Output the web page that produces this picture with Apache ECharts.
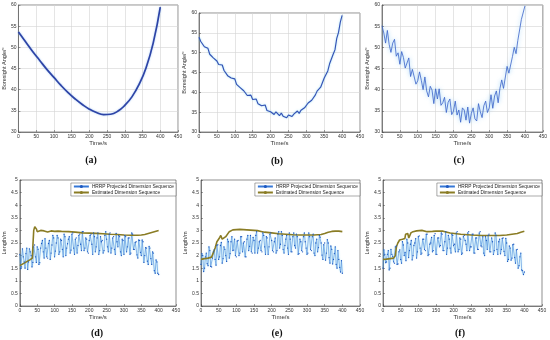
<!DOCTYPE html>
<html><head><meta charset="utf-8">
<script src="https://cdn.jsdelivr.net/npm/echarts@6/dist/echarts.min.js"></script>
<style>html,body{margin:0;padding:0;background:#fff}#c{width:550px;height:340px}</style>
</head><body><div id="c"></div>
<script>
// ---------- data ----------
const timeA = [0,20,40,60,80,100,120,140,160,180,200,220,240,260,280,300,320,340,360,380,400];
const angleA = [53.6,51.3,49.0,46.9,44.8,42.9,41.0,39.3,37.8,36.5,35.4,34.6,34.1,34.2,34.9,36.3,38.3,41.2,45.2,51.0,59.5];

const time5 = [0,5,10,15,20,25,30,35,40,45,50,55,60,65,70,75,80,85,90,95,100,105,110,115,120,125,130,135,140,145,150,155,160,165,170,175,180,185,190,195,200,205,210,215,220,225,230,235,240,245,250,255,260,265,270,275,280,285,290,295,300,305,310,315,320,325,330,335,340,345,350,355,360,365,370,375,380,385,390,395,400];
const timeMid = [2.5,7.5,12.5,17.5,22.5,27.5,32.5,37.5,42.5,47.5,52.5,57.5,62.5,67.5,72.5,77.5,82.5,87.5,92.5,97.5,102.5,107.5,112.5,117.5,122.5,127.5,132.5,137.5,142.5,147.5,152.5,157.5,162.5,167.5,172.5,177.5,182.5,187.5,192.5,197.5,202.5,207.5,212.5,217.5,222.5,227.5,232.5,237.5,242.5,247.5,252.5,257.5,262.5,267.5,272.5,277.5,282.5,287.5,292.5,297.5,302.5,307.5,312.5,317.5,322.5,327.5,332.5,337.5,342.5,347.5,352.5,357.5,362.5,367.5,372.5,377.5,382.5,387.5,392.5,397.5];

const angleB = [53.9,52.8,52.9,51.5,51.4,51.1,49.6,49.8,48.7,49.1,47.9,47.0,47.2,46.9,45.5,45.4,44.2,44.7,43.6,43.6,43.4,42.0,42.0,41.2,41.6,40.4,40.4,39.2,39.5,39.3,38.2,38.1,38.3,37.1,37.4,36.6,36.6,36.8,35.4,35.9,35.1,35.6,34.4,35.1,34.7,34.1,34.8,34.0,34.4,33.6,34.3,34.6,33.9,34.5,34.1,35.3,34.7,35.5,35.1,36.1,36.2,37.3,37.0,38.0,37.9,39.3,40.3,40.3,41.3,41.7,43.6,43.9,45.4,47.2,47.7,49.6,50.7,53.6,55.1,57.7,59.4];

const angleC = [55.1,53.4,51.0,54.0,50.7,48.8,51.0,51.9,47.9,48.7,46.0,49.0,47.6,45.1,45.5,47.5,43.1,44.8,45.1,41.3,42.1,44.2,42.2,40.0,43.0,39.7,38.3,40.8,39.9,36.7,40.2,37.8,40.2,36.3,36.9,38.2,34.6,37.0,37.8,34.1,34.9,37.3,34.0,35.2,32.3,35.7,35.2,32.8,35.9,32.1,34.4,35.7,33.1,32.6,36.7,34.8,33.4,36.2,37.3,34.6,35.7,38.8,35.6,38.5,39.7,36.9,40.3,42.3,40.3,40.6,45.5,43.9,43.8,47.8,50.0,48.5,51.6,51.6,56.6,56.6,59.8];

const hrrpD = [2.05,1.55,1.95,1.5,2.3,1.75,2.15,1.55,2.35,1.95,2.35,1.65,2.3,2.6,1.9,2.3,1.9,2.6,2.1,2.8,1.95,2.5,2.7,2.15,2.6,1.95,2.75,2.3,2.65,2.1,2.85,2.3,2.65,2.1,2.8,2.45,2.95,2.2,2.7,2.15,2.6,2.85,2.05,2.75,2.35,2.9,2.2,2.55,2.1,2.8,2.65,2.15,2.9,2.3,2.75,2.05,2.55,2.8,2.15,2.65,2.05,2.75,2.35,2.7,2.1,2.85,2.25,2.55,1.9,2.6,2.0,2.55,2.0,2.3,1.65,2.3,1.65,2.1,1.3,1.75,1.25];
const hrrpDMid = [1.48,2.27,1.75,2.08,1.45,2.27,2.0,1.73,2.42,1.73,2.25,1.72,2.48,2.15,2.67,1.95,2.48,1.85,2.42,2.7,2.18,2.8,2.05,2.65,2.25,2.85,2.0,2.47,2.75,2.22,2.9,2.05,2.7,2.4,2.85,2.2,2.95,2.3,2.65,2.1,2.8,2.45,2.9,2.15,2.7,2.05,2.75,2.6,2.2,2.95,2.35,2.85,2.1,2.7,2.25,2.88,2.35,2.75,2.0,2.6,2.8,2.15,2.7,2.05,2.9,2.25,2.52,2.03,2.62,2.13,2.62,1.73,2.32,1.78,2.37,1.88,2.15,1.4,1.83,1.3];
const hrrpE = [1.65,2.0,1.5,2.1,1.6,2.2,1.55,2.15,1.85,2.4,1.85,2.4,1.7,2.35,2.0,2.65,1.9,2.55,2.2,2.65,1.95,2.6,2.1,2.75,2.5,1.95,2.65,2.2,2.8,2.1,2.6,2.8,2.1,2.55,2.2,2.9,2.35,2.75,2.05,2.85,2.6,2.15,2.7,2.2,2.95,2.45,2.8,2.1,2.65,2.3,2.9,2.15,2.75,2.4,2.85,2.05,2.65,2.2,2.75,2.55,2.05,2.9,2.25,2.75,2.1,2.5,2.15,2.8,2.5,1.85,2.5,2.1,2.5,1.7,2.25,1.85,2.35,1.5,1.85,1.35,1.3];
const hrrpEMid = [2.08,1.37,1.95,1.68,2.35,1.57,1.9,2.23,1.62,2.43,1.95,2.52,1.88,2.25,1.77,2.55,2.08,2.75,2.22,2.0,2.58,2.0,2.75,2.15,2.55,1.95,2.8,2.37,2.15,2.72,2.1,2.95,2.3,2.6,2.15,2.8,2.05,2.7,2.35,2.9,2.2,2.55,2.1,2.85,2.3,2.95,2.25,2.4,2.8,2.05,2.65,2.15,2.9,2.3,2.75,2.08,2.55,2.15,2.9,2.3,2.1,2.75,2.2,2.85,2.0,2.65,2.32,2.73,2.02,2.43,1.82,2.63,1.92,2.38,1.67,2.08,1.65,2.2,1.53,1.8];
const hrrpF = [1.5,2.05,1.75,2.2,1.5,2.05,1.75,2.35,1.65,2.15,1.85,2.55,2.0,1.8,2.5,2.2,2.6,2.0,2.5,1.9,2.75,2.3,2.1,2.65,2.2,2.85,2.05,2.5,2.15,2.8,2.05,2.7,2.35,2.9,2.2,2.55,2.05,2.8,2.3,2.85,2.4,2.15,2.95,2.25,2.65,2.1,2.8,2.45,2.9,2.2,2.35,2.85,2.1,2.7,2.25,2.95,2.35,2.1,2.75,2.25,2.85,2.15,2.55,2.2,2.8,2.05,2.65,2.25,2.7,2.0,2.5,1.85,2.3,1.9,2.45,1.7,2.25,1.6,2.1,1.4,1.35];
const hrrpFMid = [2.23,1.72,2.05,1.43,2.25,1.97,1.7,2.38,1.67,2.23,1.7,2.42,2.13,2.65,1.92,2.45,1.83,2.4,2.67,2.15,2.78,2.05,2.65,2.25,2.85,2.0,2.45,2.72,2.2,2.87,2.05,2.7,2.4,2.85,2.2,2.95,2.3,2.65,2.1,2.8,2.45,2.9,2.15,2.7,2.05,2.75,2.6,2.2,2.95,2.35,2.85,2.1,2.7,2.25,2.9,2.38,2.75,2.0,2.6,2.8,2.15,2.7,2.05,2.9,2.25,2.55,2.07,2.68,2.17,2.68,1.77,2.38,1.82,2.43,1.92,2.23,1.5,1.95,1.43,1.25];

const estTimeD = [0,10,20,30,36,38,40,43,46,48,50,55,60,70,80,85,90,100,110,120,140,160,180,200,220,240,260,280,300,320,340,350,360,370,380,390,400];
const estD = [1.6,1.68,1.76,1.84,1.9,2.5,3.0,3.15,3.2,3.05,2.95,2.97,3.0,2.98,2.94,2.97,2.98,2.96,2.97,2.96,2.95,2.93,2.9,2.89,2.88,2.87,2.85,2.84,2.82,2.81,2.81,2.82,2.84,2.88,2.92,2.96,3.0];
const estTimeE = [0,10,20,30,35,40,45,50,53,56,60,65,70,80,85,90,100,110,120,140,160,170,180,200,220,240,260,280,300,320,340,350,360,370,380,390,400];
const estE = [1.85,1.88,1.9,1.94,2.0,2.3,2.55,2.6,2.72,2.8,2.65,2.62,2.75,2.95,3.0,3.02,3.03,3.04,3.03,3.01,2.99,2.96,2.93,2.9,2.87,2.85,2.83,2.82,2.82,2.82,2.84,2.88,2.93,2.96,2.97,2.97,2.95];
const estTimeF = [0,10,20,30,35,38,42,47,55,62,64,66,70,73,76,79,85,95,110,125,140,150,170,190,220,250,280,310,330,350,365,380,390,400];
const estF = [1.85,1.86,1.88,1.9,2.0,2.35,2.5,2.62,2.65,2.68,2.85,2.9,2.88,2.7,2.68,2.9,2.95,2.98,3.0,2.95,2.96,2.97,2.97,2.9,2.85,2.82,2.8,2.8,2.8,2.82,2.85,2.88,2.93,2.97];

const panelLabels = ['(a)','(b)','(c)','(d)','(e)','(f)'];
const xName = 'Time/s';
const yNameTop = 'Boresight Angle/°';
const yNameBottom = 'Length/m';
const nameHRRP = 'HRRP Projected Dimension Sequence';
const nameEst = 'Estimated Dimension Sequence';

// ---------- layout ----------
const grids = [
  {left:16, top:5, width:162, height:127},
  {left:199, top:13, width:161, height:119},
  {left:382, top:5, width:161, height:127},
  {left:17, top:180, width:159, height:126},
  {left:201, top:180, width:159, height:126},
  {left:383, top:180, width:159, height:126}
];
const yGaps = [7,10,9,9,11,12];
const zip = (a,b) => a.map((v,i)=>[v,b[i]]);
// interleave samples on the 5 s grid with the samples taken between them
const merge = (tA,vA,tB,vB) => { const out=[]; for(let i=0;i<tA.length;i++){ out.push([tA[i],vA[i]]); if(i<tB.length) out.push([tB[i],vB[i]]); } return out; };
const F = 'Liberation Sans, Arial, sans-serif';
const axisLbl = {fontSize:5, color:'#333', fontFamily:F, margin:2};

const option = {
  backgroundColor:'#fff',
  animation:false,
  grid: grids.map(g => Object.assign({show:true, borderColor:'#444', borderWidth:0.6, backgroundColor:'#fff'}, g)),
  xAxis: grids.map((g,i) => ({
    gridIndex:i, type:'value', min:0, max:450, interval:50,
    name:xName, nameLocation:'middle', nameGap:8,
    nameTextStyle:{fontSize:6, color:'#333', fontFamily:F},
    axisLine:{show:true, lineStyle:{color:'#444', width:0.6}},
    axisTick:{show:true, inside:true, length:2, lineStyle:{color:'#444', width:0.5}},
    axisLabel:axisLbl,
    splitLine:{show:i<3, lineStyle:{color:'#d4d4d4', width:0.6}}
  })),
  yAxis: grids.map((g,i) => ({
    gridIndex:i, type:'value',
    min: i<3 ? 30 : 0, max: i<3 ? 60 : 5, interval: i<3 ? 5 : 0.5,
    name: i<3 ? yNameTop : yNameBottom, nameLocation:'middle', nameGap:yGaps[i],
    nameTextStyle:{fontSize:5.5, color:'#333', fontFamily:F},
    axisLine:{show:true, lineStyle:{color:'#444', width:0.6}},
    axisTick:{show:true, inside:true, length:2, lineStyle:{color:'#444', width:0.5}},
    axisLabel:axisLbl,
    splitLine:{show:i<3, lineStyle:{color:'#d4d4d4', width:0.6}}
  })),
  legend: [3,4,5].map(i => ({
    orient:'vertical', right: 550 - (grids[i].left + grids[i].width), top:183,
    data:[nameHRRP, nameEst], itemWidth:15, itemHeight:4, itemGap:1,
    padding:[1,2,1,2], borderColor:'#555', borderWidth:0.5, backgroundColor:'#fff',
    textStyle:{fontSize:4.8, color:'#222', fontFamily:F, padding:[0,0,0,-2]},
    selectedMode:false
  })),
  series: [
    {type:'line', xAxisIndex:0, yAxisIndex:0, data:zip(timeA, angleA), smooth:true, showSymbol:false,
     lineStyle:{color:'#2e44a6', width:1.7, shadowColor:'rgba(110,170,240,0.6)', shadowBlur:2}},
    {type:'line', xAxisIndex:1, yAxisIndex:1, data:zip(time5, angleB), showSymbol:false,
     lineStyle:{color:'#3550b4', width:1.1, shadowColor:'rgba(90,200,240,0.7)', shadowBlur:2}},
    {type:'line', xAxisIndex:2, yAxisIndex:2, data:zip(time5, angleC), showSymbol:false,
     lineStyle:{color:'#3a62c8', width:0.8, shadowColor:'rgba(110,190,245,0.9)', shadowBlur:4}},
  ]
};
const hrrp = [hrrpD, hrrpE, hrrpF];
const hrrpMid = [hrrpDMid, hrrpEMid, hrrpFMid];
const estT = [estTimeD, estTimeE, estTimeF];
const estV = [estD, estE, estF];
for (let k=0;k<3;k++){
  option.series.push({name:nameHRRP, type:'line', xAxisIndex:3+k, yAxisIndex:3+k,
    data:merge(time5, hrrp[k], timeMid, hrrpMid[k]),
    symbol:'circle', symbolSize:1.3, showSymbol:true,
    itemStyle:{color:'#1d58c0'},
    lineStyle:{color:'#3577d6', width:0.5, shadowColor:'rgba(90,210,240,0.8)', shadowBlur:2}});
  option.series.push({name:nameEst, type:'line', xAxisIndex:3+k, yAxisIndex:3+k, data:zip(estT[k], estV[k]),
    showSymbol:false, symbol:'none', itemStyle:{color:'#8a7c24'},
    lineStyle:{color:'#8a7c24', width:1.6}});
}
const labelPos = [[91,160],[277,161],[459,160],[97,333],[277,333],[460,333]];
option.graphic = panelLabels.map((t,i)=>({
  type:'text', x:labelPos[i][0], y:labelPos[i][1],
  style:{text:t, fontSize:10, fontWeight:'bold', fontFamily:'Liberation Serif, Times New Roman, serif',
    fill:'#111', textAlign:'center', textVerticalAlign:'middle'}
}));
const chart = echarts.init(document.getElementById('c'), null, {renderer:'canvas'});
chart.setOption(option);
</script></body></html>
